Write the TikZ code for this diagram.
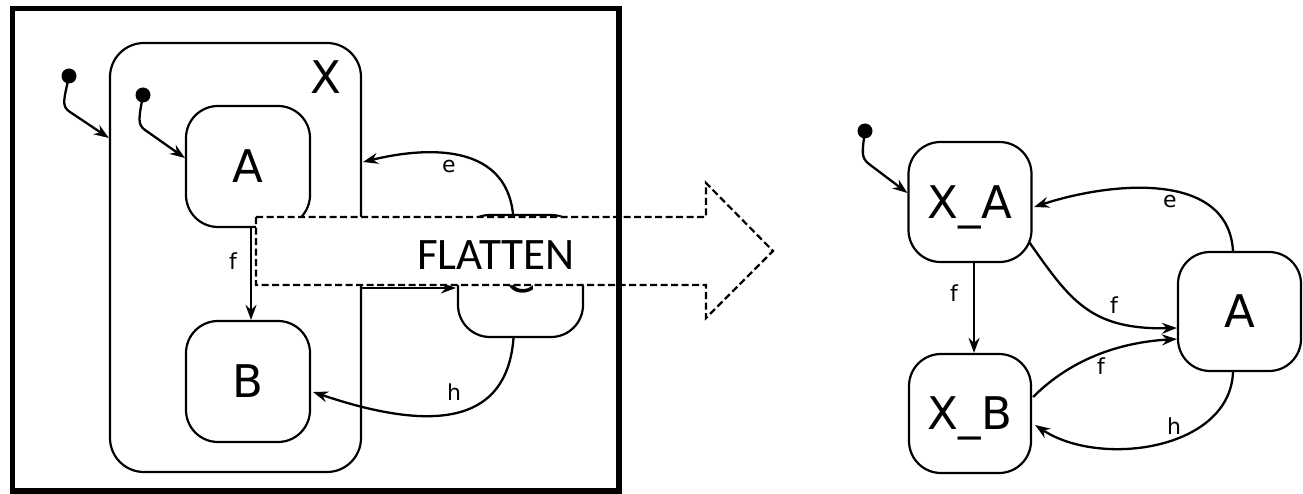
\documentclass[tikz,border=0pt]{standalone}
\usepackage{fontspec}
\setmainfont{DejaVu Sans}
\newfontfamily\flatfont{Carlito}
\usetikzlibrary{arrows.meta,calc}
\begin{document}
\begin{tikzpicture}[x=1pt,y=-1pt,
  state/.style={draw, line width=2.2pt, rounded corners=32pt, inner sep=0pt,
    text depth=0pt, font=\fontsize{45}{54}\selectfont},
  lbl/.style={font=\fontsize{22}{26}\selectfont, inner sep=0pt},
  arr/.style={line width=2.3pt, -{Stealth[length=15pt,width=11pt,inset=5pt]}},
  initdot/.style={circle, fill, inner sep=0pt, minimum size=15pt},
  flatshape/.style={draw, fill=white, line width=2.2pt, dash pattern=on 7pt off 3.5pt},
  framebox/.style={draw, line width=5.5pt}
]
\useasboundingbox (0,0) rectangle (1303,494);

% ---------- left diagram ----------
\node[state, minimum width=251pt, minimum height=429pt, rounded corners=34pt] (X) at (235.5,257.5) {};
\node[inner sep=0pt, text depth=0pt, font=\fontsize{45}{54}\selectfont] (Xlbl) at (326,77) {X};
\node[state, minimum width=124pt, minimum height=121pt] (A) at (248,166.5) {A};
\node[state, minimum width=124pt, minimum height=121pt] (B) at (248,381.5) {B};
\node[state, minimum width=125pt, minimum height=122pt] (C) at (520.5,276) {C};
\node[initdot] (d1) at (69,76) {};
\node[initdot] (d2) at (143,95) {};

\draw[arr] (d1.center) .. controls (64,100) and (61,106) .. (70,112) -- ($(X.west)+(0,-119.5)$);
\draw[arr] (d2.center) .. controls (139,118) and (137,124.3) .. (145,130) -- ($(A.west)+(0,-8.5)$);
\draw[arr] ($(A.south)+(3,0)$) -- ($(B.north)+(3,0)$);
\node[lbl] (lf) at (233,261) {f};
\draw[arr] ($(C.north)+(-7.5,0)$) .. controls (505,140) and (420,148) .. ($(X.east)+(1,-95.5)$);
\node[lbl] (le) at (449,166) {e};
\draw[arr] ($(X.east)+(0,30.5)$) -- ($(C.west)+(-1,12)$);
\draw[arr] ($(C.south)+(-7,0)$) .. controls (508,410) and (455,440) .. ($(B.east)+(2,10.5)$);
\node[lbl] (lh) at (454,392) {h};

% ---------- flatten arrow ----------
\draw[flatshape] (256,217) -- (706,217) -- (706,183) -- (773,251) -- (706,318)
  -- (706,285) -- (256,285) -- cycle;
\node[inner sep=0pt, font=\flatfont\fontsize{45}{54}\selectfont] (flat) at (496,255.5) {FLATTEN};

% ---------- frame ----------
\draw[framebox] (12.5,8.5) rectangle (619,491);

% ---------- right diagram ----------
\node[state, minimum width=123pt, minimum height=120pt] (XA) at (970,202) {X\_A};
\node[state, minimum width=122pt, minimum height=119pt] (XB) at (970,413.5) {X\_B};
\node[state, minimum width=123pt, minimum height=119pt] (AR) at (1239.5,311.5) {A};
\node[initdot] (d3) at (865,131) {};

\draw[arr] (d3.center) .. controls (862,152) and (861,158) .. (869,164) -- ($(XA.west)+(0,-9)$);
\draw[arr] ($(XA.south)+(4,0)$) -- ($(XB.north)+(4,0)$);
\node[lbl] (rf1) at (954,293) {f};
\draw[arr] ($(AR.north)+(-6.5,0)$) .. controls (1228,170) and (1110,182) .. ($(XA.east)+(1.5,5)$);
\node[lbl] (re) at (1170,201) {e};
\draw[arr] ($(XA.east)+(-3.5,40)$) .. controls (1070,300) and (1090,330) .. ($(AR.west)+(0,16.5)$);
\node[lbl] (rf2) at (1114,305) {f};
\draw[arr] ($(XB.east)+(1,-16.5)$) .. controls (1065,365) and (1110,343) .. ($(AR.west)+(0,27.5)$);
\node[lbl] (rf3) at (1101,366) {f};
\draw[arr] ($(AR.south)+(-6.5,0)$) .. controls (1230,450) and (1100,468) .. ($(XB.east)+(3,11.5)$);
\node[lbl] (rh) at (1174,426) {h};
\end{tikzpicture}
\end{document}
